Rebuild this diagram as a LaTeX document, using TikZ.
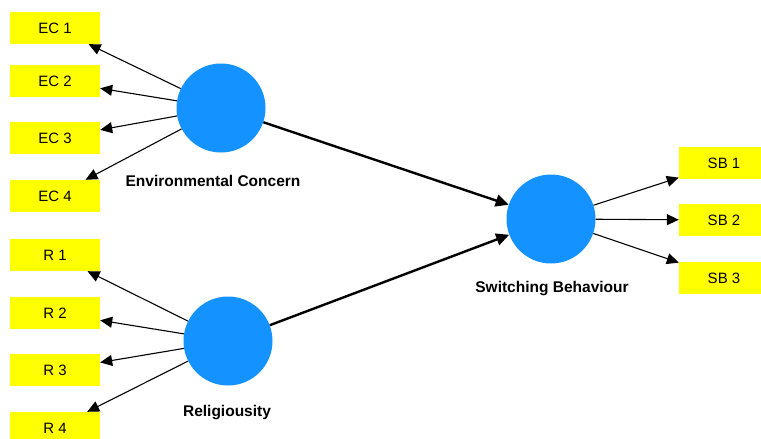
\documentclass[tikz,border=0pt]{standalone}
\usepackage{fontspec}
\setmainfont{Liberation Sans}
\usetikzlibrary{arrows.meta}

\definecolor{latentblue}{RGB}{20,146,255}
\definecolor{itemyellow}{RGB}{255,255,0}

\begin{document}
\begin{tikzpicture}[x=1pt, y=-1pt,
    item/.style={fill=itemyellow, minimum width=90pt, minimum height=32pt, inner sep=0pt,
                 font=\fontsize{15}{18}\selectfont},
    latent/.style={circle, fill=latentblue, minimum size=89pt, inner sep=0pt},
    lbl/.style={font=\fontsize{15.5}{18}\selectfont\bfseries},
    load/.style={-{Triangle[length=12pt, width=11pt]}, line width=1.1pt},
    path/.style={-{Triangle[length=13pt, width=12pt]}, line width=2.4pt}]
    % Canvas of the reference size
    \useasboundingbox (0,0) rectangle (761,439);

    % Latent variables
    \node[latent] (ec) at (221,108) {};
    \node[latent] (rel) at (228,341) {};
    \node[latent] (sb) at (551,219) {};
    \node[lbl] at (213,181) {Environmental Concern};
    \node[lbl] at (227,413) {Religiousity};
    \node[lbl] at (552,289) {Switching Behaviour};

    % Indicators of environmental concern
    \node[item] (ec1) at (55,28) {EC 1};
    \node[item] (ec2) at (55,81) {EC 2};
    \node[item] (ec3) at (55,138) {EC 3};
    \node[item] (ec4) at (55,196) {EC 4};

    % Indicators of religiousity
    \node[item] (r1) at (55,255) {R 1};
    \node[item] (r2) at (55,313) {R 2};
    \node[item] (r3) at (55,370) {R 3};
    \node[item] (r4) at (55,428) {R 4};

    % Indicators of switching behaviour
    \node[item] (sb1) at (724,163) {SB 1};
    \node[item] (sb2) at (724,220) {SB 2};
    \node[item] (sb3) at (724,278) {SB 3};

    % Outer loadings
    \draw[load] (ec) -- (ec1);
    \draw[load] (ec) -- (ec2);
    \draw[load] (ec) -- (ec3);
    \draw[load] (ec) -- (ec4);
    \draw[load] (rel) -- (r1);
    \draw[load] (rel) -- (r2);
    \draw[load] (rel) -- (r3);
    \draw[load] (rel) -- (r4);
    \draw[load] (sb) -- (sb1);
    \draw[load] (sb) -- (sb2);
    \draw[load] (sb) -- (sb3);

    % Structural paths
    \draw[path] (ec) -- (sb);
    \draw[path] (rel) -- (sb);
\end{tikzpicture}
\end{document}
